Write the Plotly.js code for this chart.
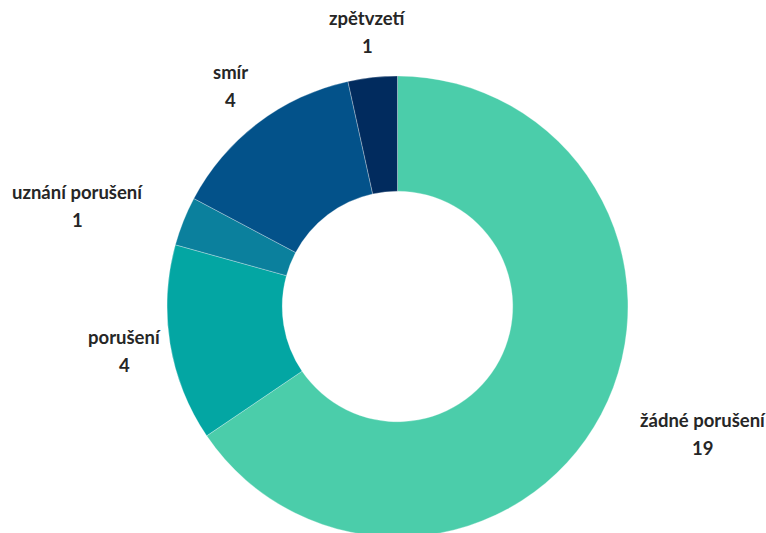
<!DOCTYPE html>
<html>
<head>
<meta charset="utf-8">
<script src="https://cdn.plot.ly/plotly-3.0.1.min.js"></script>
<style>
html, body { margin: 0; padding: 0; overflow: hidden; background: #ffffff; }
#chart { width: 766px; height: 560px; }
</style>
</head>
<body>
<div id="chart"></div>
<script>
// Data
const categories = ["žádné porušení", "porušení", "uznání porušení", "smír", "zpětvzetí"];
const counts = [19, 4, 1, 4, 1];
const colors = ["#4BCDAA", "#03A6A3", "#0B809D", "#03528A", "#012B5E"];

// Layout geometry
const W = 766, H = 560;
const domX = [0.1273, 0.9105];
const domY = [0.0411, 0.8643];
const hole = 0.5;
const labelFont = { family: "Lato, 'Open Sans', sans-serif", size: 18.5, color: "#262626" };

const cx = W * (domX[0] + domX[1]) / 2;
const cy = H * (1 - (domY[0] + domY[1]) / 2);
const R = Math.min(W * (domX[1] - domX[0]), H * (domY[1] - domY[0])) / 2;

const canvas = document.createElement("canvas");
const ctx = canvas.getContext("2d");
ctx.font = "bold " + labelFont.size + "px Lato";
function textW(t) { return ctx.measureText(t).width; }

const total = counts.reduce((a, b) => a + b, 0);
const annotations = [];
let cum = 0;
for (let i = 0; i < counts.length; i++) {
  const th = 2 * Math.PI * (cum + counts[i] / 2) / total;
  cum += counts[i];
  const s = Math.sin(th), c = Math.cos(th);
  const rc = R * 1.2, rClear = R * 1.19;
  let xc = cx + rc * s;
  let yc = cy - rc * c;
  const w = textW(categories[i]);
  if (Math.abs(s) > 0.7 && Math.abs(c) > 0.3) {
    yc = cy - R * 1.18 * c;
    const dy = yc - cy;
    const xn = Math.sqrt(Math.max(0, rClear * rClear - dy * dy));
    xc = s < 0 ? cx - xn - w / 2 : cx + xn + w / 2;
  }
  const lines = [categories[i], String(counts[i])];
  [-14, 14].forEach((off, k) => {
    annotations.push({
      text: lines[k],
      x: xc / W, y: 1 - (yc + off) / H,
      xref: "paper", yref: "paper",
      xanchor: "center", yanchor: "middle",
      showarrow: false,
      font: Object.assign({ weight: "bold" }, labelFont)
    });
  });
}

const trace = {
  type: "pie",
  labels: categories,
  values: counts,
  hole: hole,
  sort: false,
  direction: "clockwise",
  rotation: 0,
  textinfo: "none",
  hoverinfo: "none",
  marker: { colors: colors, line: { color: "#ffffff", width: 0.3 } },
  domain: { x: domX, y: domY },
  showlegend: false
};

const layout = {
  width: W, height: H,
  margin: { l: 0, r: 0, t: 0, b: 0 },
  paper_bgcolor: "#ffffff",
  showlegend: false,
  annotations: annotations
};

Plotly.newPlot("chart", [trace], layout, { displayModeBar: false, staticPlot: true });
</script>
</body>
</html>
